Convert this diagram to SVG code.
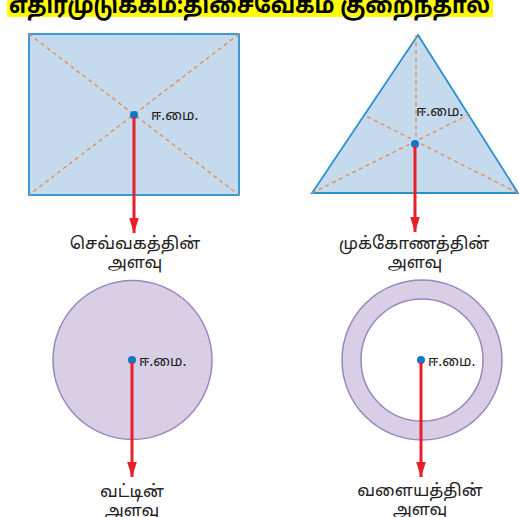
<svg xmlns="http://www.w3.org/2000/svg" width="519" height="517" viewBox="0 0 519 517">
<defs>
<style>
.lbl{font-family:"Noto Sans","Noto Sans Tamil","Lohit Tamil","DejaVu Sans",sans-serif;font-size:17px;fill:#222;text-anchor:middle}
.cg{font-family:"Noto Sans","Noto Sans Tamil","Lohit Tamil","DejaVu Sans",sans-serif;font-size:14.5px;fill:#222}
.shape{fill:#c6daee;stroke:#2b8fd0;stroke-width:1.8}
.dash{stroke:#e8884a;stroke-width:1.3;stroke-dasharray:4 3.5;fill:none}
.disc{fill:#d8cfe6;stroke:#9b85c0;stroke-width:1.5}
.dot{fill:#0a7bc4}
.arrow{stroke:#e8202a;stroke-width:3;fill:none}
</style>
<marker id="ah" markerUnits="userSpaceOnUse" markerWidth="16" markerHeight="26" refX="25" refY="8" orient="auto" viewBox="0 0 26 16">
<path d="M0,0 L26,8 L0,16 Z" fill="#e8202a"/>
</marker>
</defs>
<rect width="519" height="517" fill="#fff"/>
<g id="title">
<rect x="7" y="0" width="486" height="17" fill="#ffff00"/>
<text x="9" y="13" textLength="481" lengthAdjust="spacingAndGlyphs" font-family="'Noto Sans','Noto Sans Tamil','Lohit Tamil','DejaVu Sans',sans-serif" font-size="24" font-weight="bold" fill="#000">எதிர்முடுக்கம்:திசைவேகம் குறைந்தால்</text>
</g>
<g id="rectangle">
<rect class="shape" x="29" y="34" width="210" height="161"/>
<line class="dash" x1="29" y1="34" x2="239" y2="195"/>
<line class="dash" x1="239" y1="34" x2="29" y2="195"/>
<circle class="dot" cx="134" cy="115" r="4"/>
<text class="cg" x="151" y="120">ஈ.மை.</text>
<text class="lbl" x="135" y="249">செவ்வகத்தின்</text>
<text class="lbl" x="135" y="268">அளவு</text>
</g>
<g id="triangle">
<polygon class="shape" points="418,35 312,193 518,193"/>
<line class="dash" x1="416" y1="35" x2="416" y2="142"/>
<line class="dash" x1="312" y1="193" x2="470" y2="114"/>
<line class="dash" x1="518" y1="193" x2="364" y2="115"/>
<circle class="dot" cx="415" cy="144" r="4"/>
<text class="cg" x="416" y="116">ஈ.மை.</text>
<text class="lbl" x="414" y="249">முக்கோணத்தின்</text>
<text class="lbl" x="415" y="268">அளவு</text>
</g>
<g id="circle">
<circle class="disc" cx="132.5" cy="360" r="79.5"/>
<circle class="dot" cx="132" cy="360" r="4"/>
<text class="cg" x="139" y="366">ஈ.மை.</text>
<text class="lbl" x="132" y="497">வட்டின்</text>
<text class="lbl" x="132" y="516">அளவு</text>
</g>
<g id="ring">
<path class="disc" fill-rule="evenodd" d="M342,360 a80,80 0 1,0 160,0 a80,80 0 1,0 -160,0 Z M361,360 a61,61 0 1,0 122,0 a61,61 0 1,0 -122,0 Z"/>
<circle class="dot" cx="421" cy="360" r="4"/>
<text class="cg" x="428" y="366">ஈ.மை.</text>
<text class="lbl" x="420" y="496">வளையத்தின்</text>
<text class="lbl" x="420" y="515">அளவு</text>
</g>
<g id="connectors">
<line class="arrow" x1="134" y1="117" x2="134" y2="233" marker-end="url(#ah)"/>
<line class="arrow" x1="415" y1="146" x2="415" y2="232" marker-end="url(#ah)"/>
<line class="arrow" x1="132" y1="362" x2="132" y2="477" marker-end="url(#ah)"/>
<line class="arrow" x1="421" y1="362" x2="421" y2="477" marker-end="url(#ah)"/>
</g>
</svg>
